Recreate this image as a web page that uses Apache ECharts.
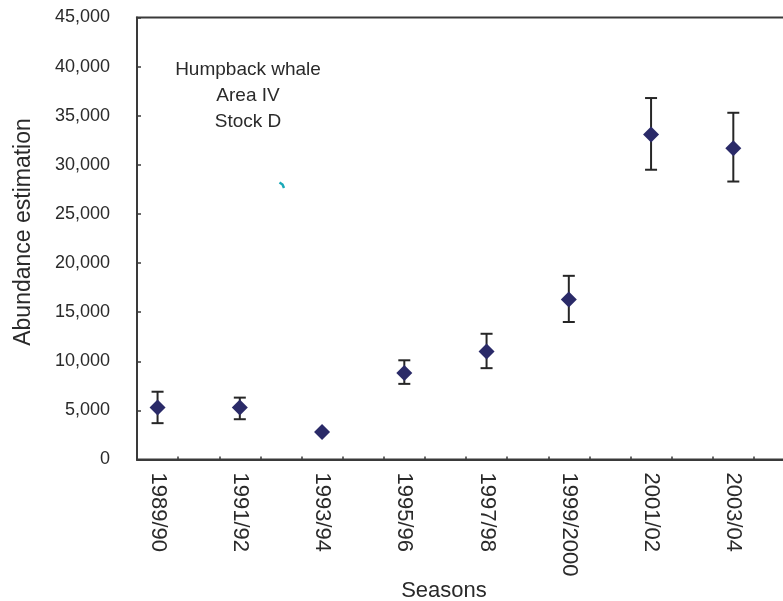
<!DOCTYPE html>
<html>
<head>
<meta charset="utf-8">
<title>Humpback whale abundance, Area IV Stock D</title>
<script src="https://cdn.jsdelivr.net/npm/echarts@6/dist/echarts.min.js"></script>
<style>
  html, body { margin: 0; padding: 0; background: #fff; }
  #chart { width: 783px; height: 601px; }
</style>
</head>
<body>
<div id="chart"></div>
<script>
// Survey seasons along the x axis (one slot per season)
const seasons = [
  '1989/90', '1990/91', '1991/92', '1992/93', '1993/94', '1994/95',
  '1995/96', '1996/97', '1997/98', '1998/99', '1999/2000', '2000/01',
  '2001/02', '2002/03', '2003/04', '2004/05'
];
// Seasons with an abundance estimate
const surveyed = ['1989/90', '1991/92', '1993/94', '1995/96', '1997/98', '1999/2000', '2001/02', '2003/04'];
const estimate = [5300, 5300, 2800, 8800, 11000, 16300, 33100, 31700];
const lowerCI  = [3700, 4100, null, 7700, 9300, 14000, 29500, 28300];
const upperCI  = [6900, 6300, null, 10100, 12800, 18700, 36800, 35300];
const yTicks = { min: 0, max: 45000, step: 5000 };
const noteLines = ['Humpback whale', 'Area IV', 'Stock D'];

const FONT = '"Liberation Sans", Arial, Helvetica, sans-serif';
const INK = '#2a2a2a';

const chart = echarts.init(document.getElementById('chart'), null, { renderer: 'canvas' });

const pointData = surveyed.map((s, i) => [s, estimate[i]]);
const barData = surveyed
  .map((s, i) => [seasons.indexOf(s), lowerCI[i], upperCI[i]])
  .filter(d => d[1] != null && d[2] != null);

chart.setOption({
  backgroundColor: '#ffffff',
  animation: false,
  grid: {
    // the plot frame runs on past the right edge of the canvas
    left: 137, top: 17.5, width: 658, height: 442,
    outerBoundsMode: 'none',
    containLabel: false,
    show: true, borderColor: '#3a3a3a', borderWidth: 2, backgroundColor: 'transparent'
  },
  xAxis: {
    type: 'category',
    data: seasons,
    boundaryGap: true,
    axisLine: { lineStyle: { color: '#3a3a3a', width: 2 } },
    axisTick: { show: true, inside: true, length: 3, interval: 0, lineStyle: { color: '#3a3a3a', width: 1.5 } },
    axisLabel: {
      interval: 1, rotate: -90, margin: 13, padding: [10, 0, 0, 0],
      fontFamily: FONT, fontSize: 22, color: INK
    },
    splitLine: { show: false }
  },
  yAxis: {
    type: 'value',
    min: yTicks.min, max: yTicks.max, interval: yTicks.step,
    axisLine: { show: true, lineStyle: { color: '#3a3a3a', width: 2 } },
    axisTick: { show: true, inside: true, length: 4, lineStyle: { color: '#3a3a3a', width: 1.5 } },
    axisLabel: {
      margin: 27, fontFamily: FONT, fontSize: 18, color: INK,
      formatter: v => v.toLocaleString('en-US')
    },
    splitLine: { show: false }
  },
  series: [
    {
      // confidence-interval whiskers with end caps
      type: 'custom',
      z: 2,
      data: barData,
      renderItem: function (params, api) {
        const x = api.value(0);
        const lo = api.coord([x, api.value(1)]);
        const hi = api.coord([x, api.value(2)]);
        const cap = 6;
        const style = { stroke: '#262626', lineWidth: 2 };
        return {
          type: 'group',
          children: [
            { type: 'line', shape: { x1: lo[0], y1: lo[1], x2: hi[0], y2: hi[1] }, style },
            { type: 'line', shape: { x1: hi[0] - cap, y1: hi[1], x2: hi[0] + cap, y2: hi[1] }, style },
            { type: 'line', shape: { x1: lo[0] - cap, y1: lo[1], x2: lo[0] + cap, y2: lo[1] }, style }
          ]
        };
      }
    },
    {
      type: 'scatter',
      z: 3,
      data: pointData,
      symbol: 'diamond',
      symbolSize: [16, 16],
      itemStyle: { color: '#2a2a68', opacity: 1 }
    }
  ],
  graphic: [
    {
      type: 'text',
      x: 248, y: 96,
      style: {
        text: noteLines.join('\n'), align: 'center', verticalAlign: 'middle',
        lineHeight: 26, font: '19px ' + FONT, fill: INK
      }
    },
    {
      type: 'text',
      x: 24, y: 232, rotation: Math.PI / 2,
      style: {
        text: 'Abundance estimation', align: 'center', verticalAlign: 'middle',
        font: '23px ' + FONT, fill: INK
      }
    },
    {
      type: 'text',
      x: 444, y: 591,
      style: {
        text: 'Seasons', align: 'center', verticalAlign: 'middle',
        font: '22px ' + FONT, fill: INK
      }
    },
    {
      // small stray pen mark inside the plot
      type: 'polyline',
      shape: { points: [[279.5, 182.5], [282.5, 184.5], [284, 188]] },
      style: { stroke: '#1aa9b8', lineWidth: 2.5, fill: null }
    }
  ]
});
</script>
</body>
</html>
